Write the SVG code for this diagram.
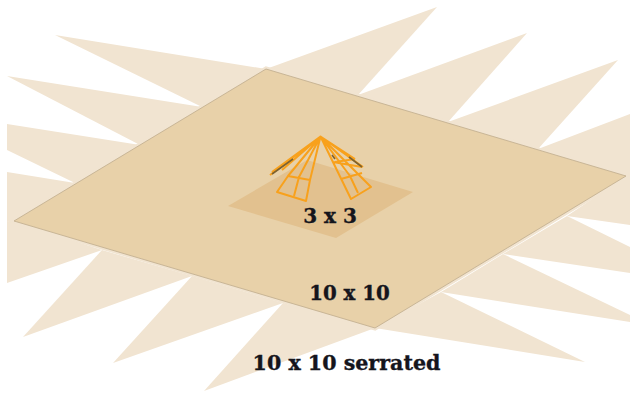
<svg xmlns="http://www.w3.org/2000/svg" width="630" height="395" viewBox="0 0 630 395">
<style>
.tooth{fill:#f1e4d1}
.wire{fill:none;stroke:#f8a11c;stroke-width:2;stroke-linejoin:round}
.dark{fill:none;stroke:#7d6230;stroke-width:1.6}
text{font-family:"DejaVu Serif","Liberation Serif",serif;font-weight:700;fill:#15151c;stroke:#15151c;stroke-width:0.35}
</style>
<rect width="630" height="395" fill="#fff"/>
<g id="serrated">
<polygon class="tooth" points="266,69 55,35 202,107"/>
<polygon class="tooth" points="202,107 7,76 140,145"/>
<polygon class="tooth" points="140,145 7,124 7,150 75,183"/>
<polygon class="tooth" points="75,183 7,172 7,222 14,221"/>
<polygon class="tooth" points="266,69 437,7 358,95"/>
<polygon class="tooth" points="358,95 527,33 448,122"/>
<polygon class="tooth" points="448,122 618,60 538,149"/>
<polygon class="tooth" points="538,149 630,114 630,176 626,176"/>
<polygon class="tooth" points="14,221 7,222 7,283 102,250"/>
<polygon class="tooth" points="102,250 23,337 192,276"/>
<polygon class="tooth" points="192,276 113,363 283,303"/>
<polygon class="tooth" points="283,303 204,391 375,328"/>
<polygon class="tooth" points="375,328 585,362 441,292"/>
<polygon class="tooth" points="441,292 630,322 630,315 503,254"/>
<polygon class="tooth" points="503,254 630,273 630,247 567,216"/>
<polygon class="tooth" points="567,216 630,225 630,176 626,176"/>
<polygon class="tooth" points="266,69 626,176 375,328 14,221" stroke="#f1e4d1" stroke-width="5"/>
</g>
<g id="square-10">
<polygon points="266,69 626,176 375,328 14,221" fill="#e8d1a9" stroke="#c4b192" stroke-width="0.9"/>
</g>
<g id="square-3">
<polygon points="307,160 413,192 336,238 228,206" fill="#e2c18f"/>
</g>
<g id="pyramid">
<path class="wire" d="M320.500,136.500 L270,175 M320.500,136.500 L272,172 M320.500,136.500 L282,170 M320.500,136.500 L288,176 L277,192 L306,201 L310,180 Z M320.500,136.500 L299,177 L294,196 M288,176 L310,180 M320.500,136.500 L351,199 L371,187 Z M320.500,136.500 L350,176 L358,193 M341,179 L362,173 M320.500,136.500 L363,167 M320.500,136.500 L355,159 M335,162 L355,159 M333,162 L362,167"/>
<path class="dark" d="M272,174 L293,159 M332,155 L335,159 M349,157 L362,167"/>
</g>
<g id="labels">
<text x="330" y="223" font-size="20" text-anchor="middle">3 x 3</text>
<text x="349.500" y="300" font-size="19.800" text-anchor="middle">10 x 10</text>
<text x="346.500" y="370" font-size="20.600" text-anchor="middle">10 x 10 serrated</text>
</g>
</svg>
